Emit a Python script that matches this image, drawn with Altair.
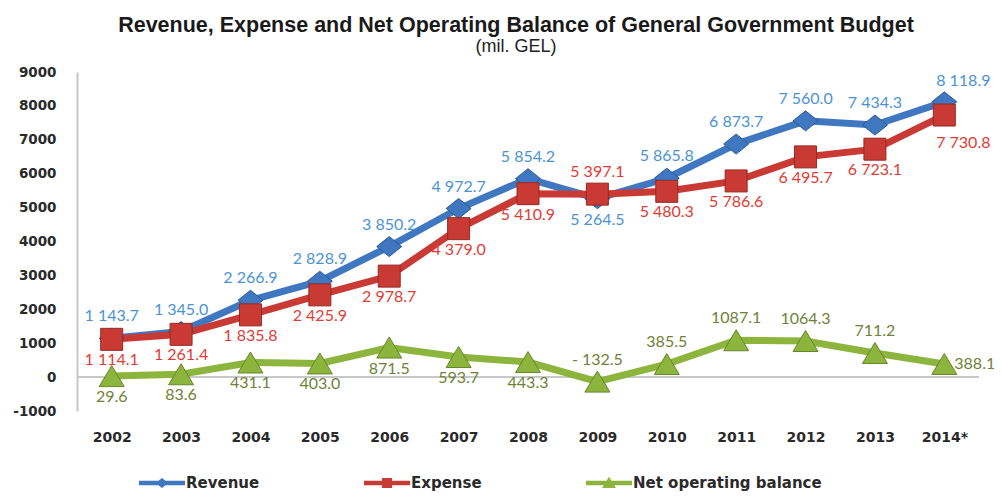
import altair as alt
import pandas as pd

years = ["2002", "2003", "2004", "2005", "2006", "2007", "2008", "2009",
         "2010", "2011", "2012", "2013", "2014*"]
revenue = [1143.7, 1345.0, 2266.9, 2828.9, 3850.2, 4972.7, 5854.2, 5264.5,
           5865.8, 6873.7, 7560.0, 7434.3, 8118.9]
expense = [1114.1, 1261.4, 1835.8, 2425.9, 2978.7, 4379.0, 5410.9, 5397.1,
           5480.3, 5786.6, 6495.7, 6723.1, 7730.8]
net_balance = [29.6, 83.6, 431.1, 403.0, 871.5, 593.7, 443.3, -132.5,
               385.5, 1087.1, 1064.3, 711.2, 388.1]
y_ticks = [-1000, 0, 1000, 2000, 3000, 4000, 5000, 6000, 7000, 8000, 9000]

series_names = ["Revenue", "Expense", "Net operating balance"]

# label placement per point
revenue_label_pos = ["above"] * 7 + ["below"] + ["above"] * 4 + ["above_r"]
expense_label_pos = ["below"] * 7 + ["above"] + ["below"] * 4 + ["below_r"]
net_label_pos = ["below"] * 7 + ["above"] * 5 + ["right"]

line_colors = ["#3f77c0", "#c83a33", "#8db53e"]
dark_colors = ["#2c5a96", "#962a25", "#66862a"]
label_colors = ["#4b93d6", "#e23b34", "#6f8238"]


def fmt_grouped(v):
    return f"{v:,.1f}".replace(",", " ")


def fmt_net(v):
    return f"- {abs(v):.1f}" if v < 0 else f"{v:.1f}"


rows = []
for i, yr in enumerate(years):
    rows.append(dict(year=yr, series="Revenue", value=revenue[i],
                     label=fmt_grouped(revenue[i]), pos=revenue_label_pos[i]))
    rows.append(dict(year=yr, series="Expense", value=expense[i],
                     label=fmt_grouped(expense[i]), pos=expense_label_pos[i]))
    rows.append(dict(year=yr, series="Net operating balance", value=net_balance[i],
                     label=fmt_net(net_balance[i]), pos=net_label_pos[i]))
df = pd.DataFrame(rows)

marker_paths = [
    "M-1,0L0,-0.8L1,0L0,0.8Z",
    "M-0.88,-0.88L0.88,-0.88L0.88,0.88L-0.88,0.88Z",
    "M0,-0.84L1,0.84L-1,0.84Z",
]
legend_paths = [
    "M-1,-0.1L1,-0.1L1,0.1L-1,0.1Z M-0.28,0L0,-0.22L0.28,0L0,0.22Z",
    "M-1,-0.1L1,-0.1L1,0.1L-1,0.1Z M-0.22,-0.22L0.22,-0.22L0.22,0.22L-0.22,0.22Z",
    "M-1,-0.1L1,-0.1L1,0.1L-1,0.1Z M0,-0.27L0.3,0.22L-0.3,0.22Z",
]

x_axis = alt.Axis(domain=False, ticks=False, labelAngle=0, labelPadding=19,
                  labelFont="DejaVu Sans", labelFontWeight="bold",
                  labelFontSize=14, labelColor="#2a2a2a")
y_axis = alt.Axis(values=y_ticks, labelExpr="datum.value < 0 ? '-' + abs(datum.value) : '' + datum.value",
                  labelOverlap=False, grid=False, ticks=False,
                  domain=True, domainColor="#c8c8c8", domainWidth=2,
                  labelPadding=21, labelFont="DejaVu Sans", labelFontWeight="bold",
                  labelFontSize=13.5, labelColor="#2a2a2a")
y_scale = alt.Scale(domain=[-1000, 9000], nice=False, zero=False)

x_enc = alt.X("year:N", sort=years, title=None, axis=x_axis)
y_enc = alt.Y("value:Q", title=None, scale=y_scale, axis=y_axis)

base = alt.Chart(df).encode(x=x_enc, y=y_enc)

zero_rule = alt.Chart(df).mark_rule(color="#c8c8c8", strokeWidth=2).encode(
    y=alt.Y(datum=0, title=None, scale=y_scale, axis=y_axis)
)

lines = base.mark_line(strokeWidth=7).encode(
    color=alt.Color("series:N", scale=alt.Scale(domain=series_names, range=line_colors), legend=None)
)

points = base.mark_point(filled=True, opacity=1, size=625, strokeWidth=1).encode(
    color=alt.Color("series:N", scale=alt.Scale(domain=series_names, range=line_colors), legend=None),
    shape=alt.Shape("series:N", scale=alt.Scale(domain=series_names, range=marker_paths), legend=None),
    stroke=alt.Stroke("series:N", scale=alt.Scale(domain=series_names, range=dark_colors), legend=None),
)

label_font = "Lato"
text_color = alt.Color("series:N", scale=alt.Scale(domain=series_names, range=label_colors), legend=None)


def text_layer(pos, **kw):
    return base.transform_filter(alt.datum.pos == pos).mark_text(
        fontSize=16, font=label_font, baseline="middle", **kw
    ).encode(text="label:N", color=text_color)


text_above = text_layer("above", dy=-22)
text_below = text_layer("below", dy=21)
text_above_r = text_layer("above_r", dy=-21, dx=19)
text_below_r = text_layer("below_r", dy=28, dx=19)
text_right = text_layer("right", dx=10, align="left")

legend_layer = alt.Chart(df).transform_filter("false").mark_point(filled=True, opacity=1).encode(
    color=alt.Color("series:N", scale=alt.Scale(domain=series_names, range=line_colors),
                    legend=alt.Legend(title=None)),
    shape=alt.Shape("series:N", scale=alt.Scale(domain=series_names, range=legend_paths),
                    legend=alt.Legend(title=None)),
)

chart = alt.layer(
    zero_rule, lines, points, text_above, text_below, text_above_r, text_below_r,
    text_right, legend_layer
).resolve_scale(
    color="independent", shape="independent", stroke="independent"
).properties(
    width=902, height=339,
    autosize=alt.AutoSizeParams(type="none"),
    padding={"left": 69, "top": 64, "right": 15, "bottom": 83},
    title=alt.Title(
        text="Revenue, Expense and Net Operating Balance of General Government  Budget",
        subtitle="(mil. GEL)",
        font="Liberation Sans", fontSize=21.5, fontWeight="bold", color="#1a1a1a",
        subtitleFont="Liberation Sans", subtitleFontSize=18, subtitleColor="#222222",
        subtitlePadding=2, anchor="middle", offset=9, dx=-12,
    ),
).configure_view(stroke=None).configure_axisY(labelOverlap=False).configure_legend(
    orient="none", legendX=62, legendY=388, direction="horizontal",
    symbolSize=2116, symbolStrokeWidth=0, labelFont="DejaVu Sans", labelFontWeight="bold",
    labelFontSize=15, labelColor="#2a2a2a", labelOffset=1, columnPadding=104, padding=0,
    labelLimit=400,
)

chart.save("out.html", embed_options={"renderer": "svg", "actions": False})
